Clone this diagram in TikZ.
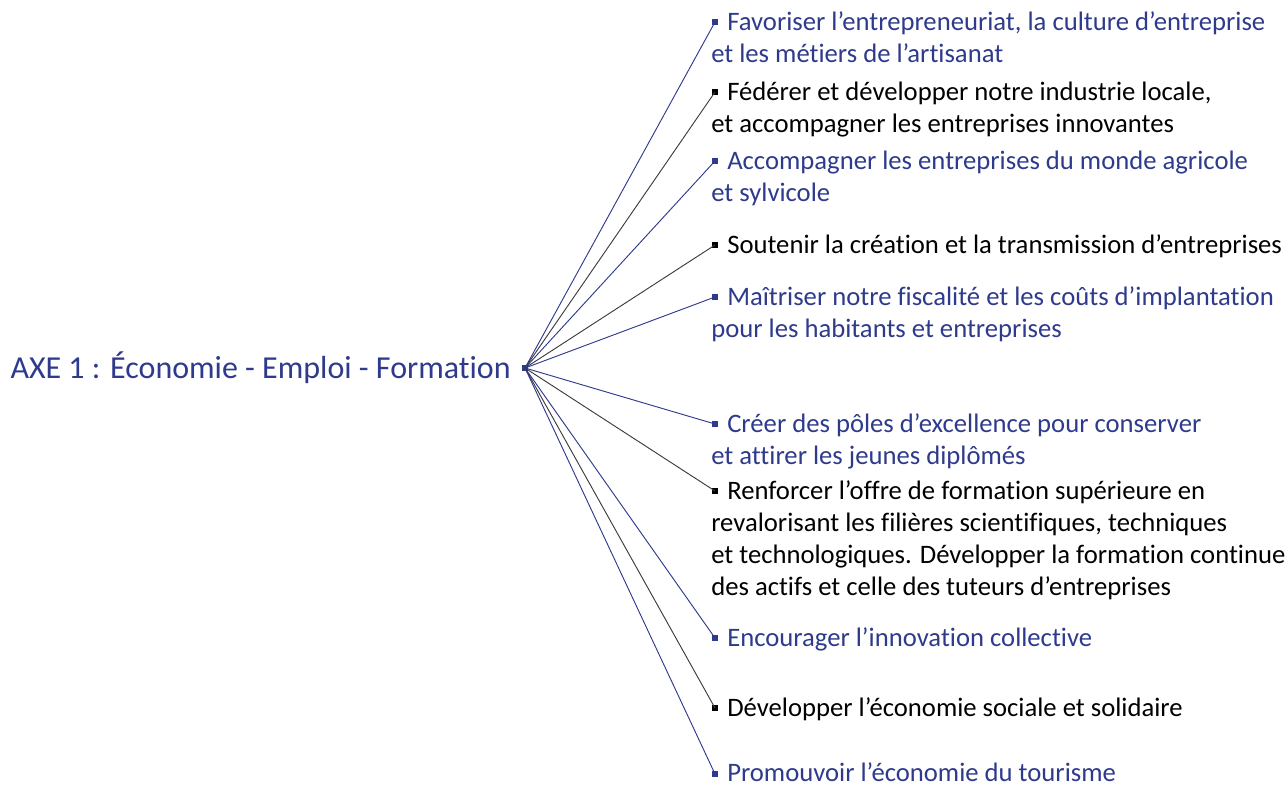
\documentclass[tikz,border=0pt]{standalone}
\usepackage{fontspec}
\setmainfont[Ligatures=NoCommon]{Carlito}
\usepackage{xcolor}
\usepackage{tikz}
\definecolor{axeblue}{RGB}{46,58,140}
\definecolor{axegray}{RGB}{60,60,60}
\tikzset{ hub/.style = {rectangle, fill=axeblue, inner sep=0pt, minimum size=4.5pt} }
\tikzset{ dot_blue/.style = {rectangle, fill=axeblue, inner sep=0pt, minimum size=3.8pt} }
\tikzset{ dot_black/.style = {rectangle, fill=black, inner sep=0pt, minimum size=3.8pt} }
\tikzset{ item_blue/.style = {align=left, anchor=base west, inner sep=0pt, text=axeblue} }
\tikzset{ item_black/.style = {align=left, anchor=base west, inner sep=0pt, text=black} }
\tikzset{ link_blue/.style = {draw=axeblue, line width=0.7pt} }
\tikzset{ link_black/.style = {draw=axegray, line width=0.7pt} }
\newcommand{\lead}{\hspace*{12pt}}

\begin{document}
\begin{tikzpicture}[x=0.75pt, y=-0.75pt, font=\fontsize{20}{24}\selectfont]
    \useasboundingbox (0,0) rectangle (1288,785);
    \node[hub] (hub) at (525,368) {};
    \node[anchor=east, inner sep=0pt, text=axeblue, font=\fontsize{24}{28}\selectfont] (axe) at (511,368) {AXE 1 : Économie - Emploi - Formation};

    \node[dot_blue]  (d1)  at (715,22)  {};
    \node[dot_black] (d2)  at (715,92)  {};
    \node[dot_blue]  (d3)  at (715,161) {};
    \node[dot_black] (d4)  at (715,245) {};
    \node[dot_blue]  (d5)  at (715,297) {};
    \node[dot_blue]  (d6)  at (715,424) {};
    \node[dot_black] (d7)  at (715,491) {};
    \node[dot_blue]  (d8)  at (715,638) {};
    \node[dot_black] (d9)  at (715,708) {};
    \node[dot_blue]  (d10) at (715,774) {};

    \node[item_blue]  (t1)  at (711,62)  {\lead Favoriser l’entrepreneuriat, la culture d’entreprise\\et les métiers de l’artisanat};
    \node[item_black] (t2)  at (711,132) {\lead Fédérer et développer notre industrie locale,\\et accompagner les entreprises innovantes};
    \node[item_blue]  (t3)  at (711,201) {\lead Accompagner les entreprises du monde agricole\\et sylvicole};
    \node[item_black] (t4)  at (711,253) {\lead Soutenir la création et la transmission d’entreprises};
    \node[item_blue]  (t5)  at (711,337) {\lead Maîtriser notre fiscalité et les coûts d’implantation\\pour les habitants et entreprises};
    \node[item_blue]  (t6)  at (711,464) {\lead Créer des pôles d’excellence pour conserver\\et attirer les jeunes diplômés};
    \node[item_black] (t7)  at (711,595) {\lead Renforcer l’offre de formation supérieure en\\revalorisant les filières scientifiques, techniques\\et technologiques. Développer la formation continue\\des actifs et celle des tuteurs d’entreprises};
    \node[item_blue]  (t8)  at (711,646) {\lead Encourager l’innovation collective};
    \node[item_black] (t9)  at (711,716) {\lead Développer l’économie sociale et solidaire};
    \node[item_blue]  (t10) at (711,781) {\lead Promouvoir l’économie du tourisme};

    \draw[link_blue]  (hub.center) -- (d1.center);
    \draw[link_black] (hub.center) -- (d2.center);
    \draw[link_blue]  (hub.center) -- (d3.center);
    \draw[link_black] (hub.center) -- (d4.center);
    \draw[link_blue]  (hub.center) -- (d5.center);
    \draw[link_blue]  (hub.center) -- (d6.center);
    \draw[link_black] (hub.center) -- (d7.center);
    \draw[link_blue]  (hub.center) -- (d8.center);
    \draw[link_black] (hub.center) -- (d9.center);
    \draw[link_blue]  (hub.center) -- (d10.center);
\end{tikzpicture}
\end{document}
